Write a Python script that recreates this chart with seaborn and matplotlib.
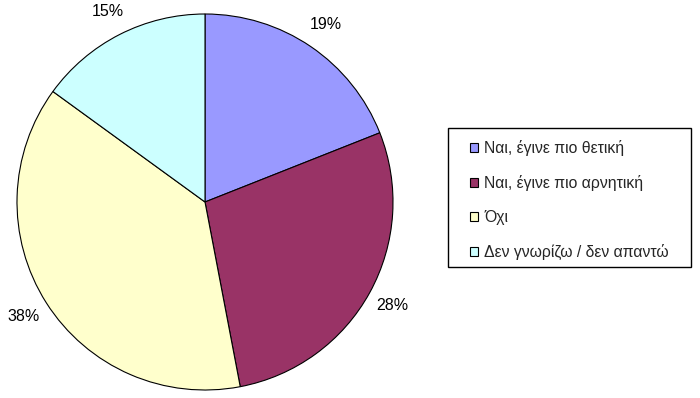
import matplotlib
matplotlib.use("Agg")
import matplotlib.pyplot as plt
from matplotlib.patches import Rectangle
import seaborn as sns

# data
labels = ["Ναι, έγινε πιο θετική", "Ναι, έγινε πιο αρνητική", "Όχι", "Δεν γνωρίζω / δεν απαντώ"]
values = [19, 28, 38, 15]
colors = ["#9999FF", "#993366", "#FFFFCC", "#CCFFFF"]

sns.set_theme(style="white")
plt.rcParams['font.family'] = ['Liberation Sans', 'DejaVu Sans']

W, H = 700, 398
fig = plt.figure(figsize=(7, 3.98), dpi=100)
# pie centre ~ (205, 196) px from bottom-left, radius ~188 px
r = 188
ax = fig.add_axes([(205 - r) / W, (196 - r) / H, 2 * r / W, 2 * r / H])
wedges, texts, autotexts = ax.pie(values, colors=colors, startangle=90, counterclock=False,
                                  autopct='%1.0f%%', pctdistance=1.14,
                                  wedgeprops=dict(edgecolor='black', linewidth=0.8),
                                  textprops=dict(fontsize=11.5, color='black'))
ax.set_xlim(-1, 1)
ax.set_ylim(-1, 1)
ax.set_aspect('equal')
ax.axis('off')

# legend frame drawn separately (Excel-like wide padding)
fig.patches.append(Rectangle((448 / W, 1 - 267 / H), (691 - 448) / W, (267 - 128) / H,
                             transform=fig.transFigure, facecolor='white',
                             edgecolor='black', linewidth=1.0, zorder=1))
leg = fig.legend(wedges, labels, loc='upper left', bbox_to_anchor=(470 / W, 1 - 140 / H),
                 frameon=False, fontsize=11.3, labelspacing=1.22,
                 handlelength=0.5, handleheight=0.5, handletextpad=0.4,
                 borderpad=0, borderaxespad=0)
leg.set_zorder(2)

fig.savefig("out.png", dpi=100, facecolor='white')
